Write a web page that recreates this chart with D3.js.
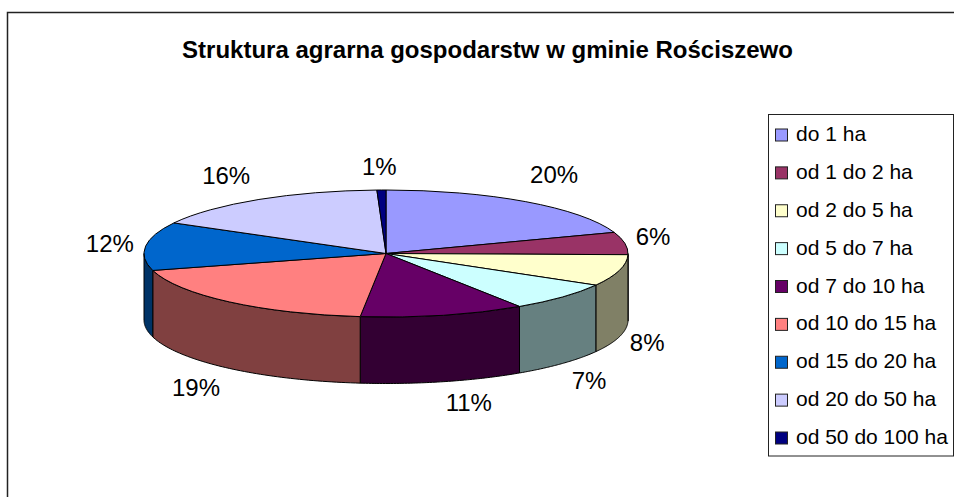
<!DOCTYPE html>
<html>
<head>
<meta charset="utf-8">
<script src="https://cdn.jsdelivr.net/npm/d3@7/dist/d3.min.js"></script>
<style>
html,body{margin:0;padding:0;background:#fff;overflow:hidden}
svg{display:block}
text{font-family:"Liberation Sans",Arial,sans-serif;fill:#000}
</style>
</head>
<body>
<script>
const chartTitle = "Struktura agrarna gospodarstw w gminie Rościszewo";
const categories = ["do 1 ha","od 1 do 2 ha","od 2 do 5 ha","od 5 do 7 ha","od 7 do 10 ha","od 10 do 15 ha","od 15 do 20 ha","od 20 do 50 ha","od 50 do 100 ha"];
const shares = [19.6,5.7,8.0,7.4,11.0,19.0,12.3,16.4,0.6];
const palette = ["#9999FF","#993366","#FFFFCC","#CCFFFF","#660066","#FF8080","#0066CC","#CCCCFF","#000080"];
// layout-only nudges for the percentage labels
const labelNudge = [[11,-9.5],[-1.5,-3],[-1,0],[4.7,3],[18.5,1],[-14,3.5],[-6,0],[-17,-6],[-1.5,-2]];

const W = 954, H = 497;
const cx = 386, cy = 253.5, rx = 242, ry = 63.5, depth = 66.5;
const TAU = 2 * Math.PI;

const svg = d3.select("body").append("svg").attr("width", W).attr("height", H);

svg.append("rect").attr("x",7.5).attr("y",12.5).attr("width",W+20).attr("height",H+20)
  .attr("fill","#fff").attr("stroke","#222").attr("stroke-width",1.5);

svg.append("text").attr("x",487.5).attr("y",58).attr("text-anchor","middle")
  .attr("font-size",24).attr("font-weight","bold").text(chartTitle);

const pie = d3.pie().sort(null).value(d => d);
const arcs = pie(shares);
const color = d3.scaleOrdinal().domain(categories).range(palette);
const shade = c => { const r = d3.rgb(c); return d3.rgb(r.r*0.5, r.g*0.5, r.b*0.5).formatHex(); };

const px = a => cx + rx * Math.sin(a);
const py = a => cy - ry * Math.cos(a);
const line = d3.line();

// front wall of the disc: visible between 3 o'clock and 9 o'clock
const sides = svg.append("g");
arcs.forEach((d,i) => {
  const a0 = Math.max(d.startAngle, TAU/4), a1 = Math.min(d.endAngle, 3*TAU/4);
  if (a1 <= a0) return;
  const angs = d3.range(0,61).map(k => a0 + (a1-a0)*k/60);
  const pts = angs.map(a => [px(a), py(a)]).concat(angs.slice().reverse().map(a => [px(a), py(a)+depth]));
  sides.append("path").attr("d", line(pts)+"Z")
    .attr("fill", shade(color(categories[i]))).attr("stroke","#000").attr("stroke-width",1)
    .attr("stroke-linejoin","round");
});

// top face
const arc = d3.arc().innerRadius(0).outerRadius(rx);
svg.append("g").attr("transform",`translate(${cx},${cy}) scale(1,${ry/rx})`)
  .selectAll("path").data(arcs).join("path")
  .attr("d", arc)
  .attr("fill",(d,i)=>color(categories[i]))
  .attr("stroke","#000").attr("stroke-width",1)
  .attr("vector-effect","non-scaling-stroke").attr("stroke-linejoin","round");

// percentage labels
svg.append("g").selectAll("text").data(arcs).join("text")
  .attr("text-anchor","middle").attr("font-size",24)
  .attr("x",(d,i)=>{ const m=(d.startAngle+d.endAngle)/2; return cx + (rx+30)*Math.sin(m) + labelNudge[i][0]; })
  .attr("y",(d,i)=>{ const m=(d.startAngle+d.endAngle)/2; const c=Math.cos(m);
     const dy = (c>=0 ? -(ry+21)*c : depth + (ry+21)*(-c));
     return cy + dy + labelNudge[i][1] + 8; })
  .text((d,i)=>Math.round(shares[i])+"%");

// legend
const lx = 768.5, ly = 114.5, lw = 185, lh = 341.5;
svg.append("rect").attr("x",lx).attr("y",ly).attr("width",lw).attr("height",lh)
  .attr("fill","#fff").attr("stroke","#222").attr("stroke-width",1);
const rowY = d3.scalePoint().domain(categories).range([135,438]);
const items = svg.append("g").selectAll("g").data(categories).join("g")
  .attr("transform",d=>`translate(0,${rowY(d)})`);
items.append("rect").attr("x",775.5).attr("y",-6).attr("width",12).attr("height",12)
  .attr("fill",d=>color(d)).attr("stroke","#222").attr("stroke-width",1);
items.append("text").attr("x",796).attr("y",6).attr("font-size",21).text(d=>d);
</script>
</body>
</html>
